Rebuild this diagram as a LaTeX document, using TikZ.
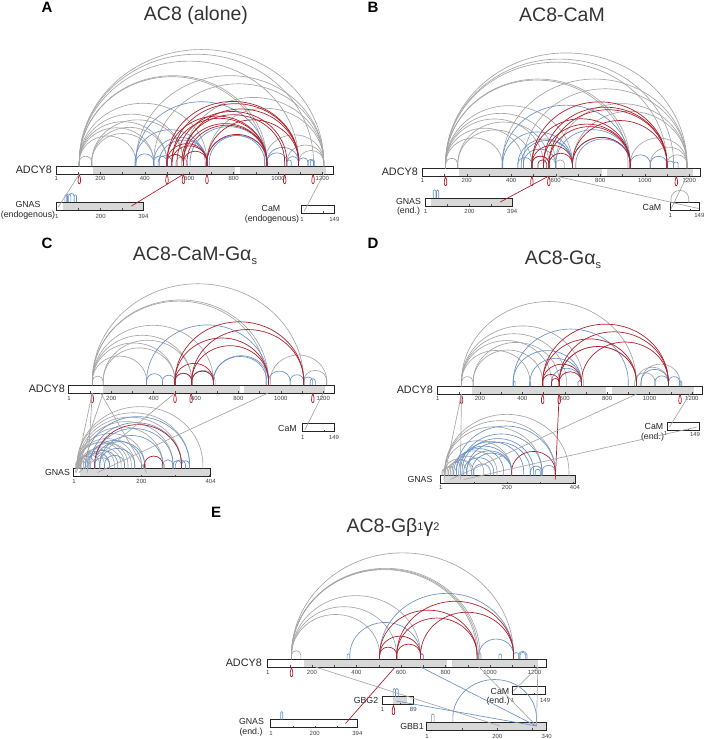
\documentclass[tikz,border=0pt]{standalone}
\usepackage{fontspec}
\setmainfont{Liberation Sans}

\definecolor{linkgrey}{RGB}{165,165,165}
\definecolor{linkblue}{RGB}{104,146,202}
\definecolor{linkred}{RGB}{176,34,44}
\definecolor{barshade}{RGB}{216,216,216}

\tikzset{
  gry/.style={linkgrey, line width=0.65pt},
  blu/.style={linkblue, line width=0.65pt},
  rd/.style={linkred, line width=0.7pt},
  barline/.style={draw=black!85, fill=white, line width=0.7pt},
  ticklab/.style={font=\fontsize{6}{7}\selectfont, text=black!75, inner sep=0pt},
  protlab/.style={font=\fontsize{8.8}{10}\selectfont, text=black!85, inner sep=0pt},
  barlab/.style={font=\fontsize{10.8}{12}\selectfont, text=black!85, inner sep=0pt, anchor=east},
  paneltitle/.style={font=\fontsize{19.5}{22}\selectfont, text=black!80, inner sep=0pt},
  panelletter/.style={font=\fontsize{15}{16}\selectfont\bfseries, inner sep=0pt}
}

% current bar: origin x, pixels per residue, top edge
\newcommand{\usebar}[3]{\def\ox{#1}\def\sc{#2}\def\by{#3}}
\def\leg{4}
% arcs above the current bar, residue pairs
\newcommand{\arcs}[2]{%
  \foreach \ra/\rb in {#2}{%
    \draw[#1] ({\ox+\ra*\sc},\by) -- ++(0,-\leg)
      arc[start angle=180, end angle=0, x radius={(\rb-\ra)*\sc/2*1pt}, y radius={(\rb-\ra)*\sc/2*0.92*1pt}]
      -- ++(0,\leg);}}
% self links hanging under the current bar
\newcommand{\loops}[2]{%
  \foreach \rr in {#2}{%
    \draw[rd] ({\ox+\rr*\sc},#1) .. controls +(-4.5,13) and +(4.5,13) .. ({\ox+\rr*\sc},#1);}}
% protein bar: x0, top, length, scale, shaded ranges, ticks
\newcommand{\protbar}[6]{%
  \draw[barline] (#1,#2) rectangle ({#1+#3*#4},#2+8);
  \foreach \ra/\rb in {#5}{\fill[barshade] ({#1+\ra*#4},#2+0.4) rectangle ({#1+\rb*#4},#2+7.6);}
  \foreach \tt in {#6}{\draw[black!70, line width=0.4pt] ({#1+\tt*#4},#2+8) -- ++(0,-1.6);}
  \draw[draw=black!85, line width=0.7pt] (#1,#2) rectangle ({#1+#3*#4},#2+8);}
% residue labels under a bar: x0, scale, y, residue/label
\newcommand{\ticklabels}[4]{%
  \foreach \rr/\lab in {#4}{\node[ticklab] (tick-\lab) at ({#1+\rr*#2},#3) {\lab};}}

\begin{document}
\begin{tikzpicture}[x=1pt, y=-1pt]
\useasboundingbox (0,0) rectangle (705,739);

% ===== A: AC8 alone =====
\node[panelletter] (A-letter) at (47,7) {A};
\node[paneltitle] (A-title) at (196,15) {AC8 (alone)};
\protbar{56}{166}{1251}{0.222}{165/807,830/1215}{100,200,...,1200}
\ticklabels{56}{0.222}{178.5}{1/1,200/200,400/400,600/600,800/800,1000/1000,1200/1200}
\node[barlab] (A-adcy8) at (52,170) {ADCY8};
\protbar{56.5}{202}{394}{0.2205}{30/394}{100,200,300}
\ticklabels{56.5}{0.2205}{216}{1/1,200/200,394/394}
\node[protlab] (A-gnas) at (28,204.5) {GNAS};
\node[protlab] (A-gnas-end) at (28,215.5) {(endogenous)};
\protbar{301.7}{205}{149}{0.219}{0/0}{100}
\ticklabels{301.7}{0.219}{219}{1/1,149/149}
\node[protlab] (A-cam) at (271,208.5) {CaM};
\node[protlab] (A-cam-end) at (272,219) {(endogenous)};

\usebar{56}{0.222}{166}
\arcs{gry}{105/1206, 105/1160, 105/1093, 105/950, 105/940, 105/680, 105/574, 105/500, 105/440, 105/360, 105/161, 161/574, 161/500, 161/440, 360/1206, 440/1206, 574/1206, 680/1206, 940/1206, 1040/1206, 1093/1206, 540/590}
\arcs{blu}{360/950, 356/672, 440/680, 465/680, 360/440, 440/500, 460/522, 680/940, 690/950, 604/950, 950/1040, 1040/1093, 950/1093, 1093/1135, 1135/1160, 1145/1165, 1040/1060}
\arcs{rd}{500/950, 500/1093, 522/950, 522/1093, 567/1030, 574/950, 574/1093, 500/680, 522/680, 574/680, 680/950, 680/1093, 500/574, 590/950, 545/1040}
\loops{174}{105, 500, 574, 680, 1030, 1158}
\usebar{56.5}{0.2205}{202}
\def\leg{6}
\arcs{blu}{38/50, 45/65, 55/80, 80/91}
\def\leg{4}
\draw[gry] ({56+105*0.222},174) -- ({56.5+8*0.2205},207);
\draw[rd] ({56+576*0.222},174) -- ({56.5+340*0.2205},206);
\draw[gry] ({56+1206*0.222},174) -- ({301.7+12*0.219},211);

% ===== B: AC8-CaM =====
\node[panelletter] (B-letter) at (373,7) {B};
\node[paneltitle] (B-title) at (562,15) {AC8-CaM};
\protbar{422.2}{168}{1251}{0.2225}{165/807,830/1215}{100,200,...,1200}
\ticklabels{422.2}{0.2225}{180.5}{1/1,200/200,400/400,600/600,800/800,1000/1000,1200/1200}
\node[barlab] (B-adcy8) at (418,172) {ADCY8};
\protbar{425.5}{198}{394}{0.22}{27/394}{100,200,300}
\ticklabels{425.5}{0.22}{211}{1/1,200/200,394/394}
\node[protlab] (B-gnas) at (408.5,201.5) {GNAS};
\node[protlab] (B-gnas-end) at (408.5,211.5) {(end.)};
\protbar{670}{202.5}{149}{0.197}{0/0}{100}
\ticklabels{670}{0.197}{215}{1/1,149/149}
\node[protlab] (B-cam) at (652,207) {CaM};

\usebar{422.2}{0.2225}{168}
\arcs{gry}{105/1190, 105/1130, 105/1100, 105/935, 105/925, 105/675, 105/600, 105/545, 105/455, 105/360, 105/160, 160/570, 160/493, 360/1190, 455/1190, 600/1190, 675/1190, 935/1190, 1025/1190, 1100/1190, 545/600, 600/640}
\arcs{blu}{360/935, 362/675, 430/675, 445/675, 455/600, 493/570, 430/493, 675/935, 690/935, 935/1025, 1025/1100, 1100/1130, 1130/1150, 600/935}
\arcs{rd}{493/935, 493/1100, 545/935, 545/1100, 570/935, 570/1100, 493/675, 570/675, 493/570, 675/1100, 675/935, 520/560}
\loops{176}{105, 493, 569, 1142}
\usebar{425.5}{0.22}{198}
\def\leg{7}
\arcs{blu}{35/48, 50/60}
\def\leg{4}
\usebar{670}{0.197}{202.5}
\arcs{gry}{5/95}
\draw[rd] ({422.2+569*0.2225},176) -- ({425.5+340*0.22},202);
\draw[gry] ({422.2+600*0.2225},176) -- ({670+145*0.197},208.5);
\draw[gry] ({670+5*0.197},209) -- ({422.2+1190*0.2225},176);

% ===== C: AC8-CaM-Gas =====
\node[panelletter] (C-letter) at (47,243) {C};
\node[paneltitle] (C-title) at (195,256) {AC8-CaM-Gα\raisebox{-4pt}{\fontsize{11}{11}\selectfont s}};
\protbar{68.8}{385}{1251}{0.212}{163/808,828/1210}{100,200,...,1200}
\ticklabels{68.8}{0.212}{398}{1/1,200/200,400/400,600/600,800/800,1000/1000,1200/1200}
\node[barlab] (C-adcy8) at (65,389) {ADCY8};
\protbar{73.7}{468.5}{404}{0.339}{18/404}{100,200,300,400}
\ticklabels{73.7}{0.339}{481}{1/1,200/200,404/404}
\node[protlab] (C-gnas) at (57.5,472.5) {GNAS};
\protbar{302.7}{423.5}{149}{0.21}{0/0}{100}
\ticklabels{302.7}{0.21}{437}{1/1,149/149}
\node[protlab] (C-cam) at (287.5,428) {CaM};

\usebar{68.8}{0.212}{385}
\arcs{gry}{111/1108, 111/942, 111/930, 111/682, 111/580, 111/501, 111/367, 111/162, 162/580, 162/501, 950/1217, 1108/1217, 580/690}
\arcs{blu}{367/942, 442/501, 501/580, 580/682, 682/942, 682/934, 942/1044, 1044/1108, 1108/1150, 1139/1163, 367/442}
\arcs{rd}{501/1108, 580/1108, 501/942, 580/942, 501/580, 580/682, 501/682}
\loops{393}{111, 501, 577, 1151}
\usebar{73.7}{0.339}{468.5}
\arcs{gry}{10/381, 10/342, 14/318, 18/293, 22/263, 10/209, 14/180, 10/35, 10/62, 14/77, 18/91, 22/106, 35/106, 10/150, 14/160, 5/30, 8/45, 20/120, 28/140, 35/170, 206/212, 260/267}
\arcs{blu}{35/342, 50/318, 62/293, 77/263, 62/209, 77/180, 91/150, 62/106, 263/293, 293/318, 318/342, 300/330, 40/130, 45/200}
\arcs{rd}{62/318, 209/263}
\draw[gry] ({68.8+111*0.212},393) -- ({73.7+5*0.339},472.5);
\draw[gry] ({68.8+111*0.212},393) -- ({73.7+40*0.339},472.5);
\draw[gry] ({68.8+162*0.212},393) -- ({73.7+8*0.339},472.5);
\draw[gry] ({68.8+150*0.212},393) -- ({73.7+215*0.339},472.5);
\draw[gry] ({68.8+501*0.212},393) -- ({73.7+15*0.339},472.5);
\draw[gry] ({68.8+940*0.212},393) -- ({73.7+70*0.339},472.5);
\draw[gry] ({302.7+10*0.21},430) -- ({68.8+1200*0.212},393);

% ===== D: AC8-Gas =====
\node[panelletter] (D-letter) at (373,243) {D};
\node[paneltitle] (D-title) at (563,260) {AC8-Gα\raisebox{-4pt}{\fontsize{11}{11}\selectfont s}};
\protbar{437.5}{386}{1251}{0.212}{163/797,824/1210}{100,200,...,1200}
\ticklabels{437.5}{0.212}{398.5}{1/1,200/200,400/400,600/600,800/800,1000/1000,1200/1200}
\node[barlab] (D-adcy8) at (433,390) {ADCY8};
\protbar{440.4}{475.5}{404}{0.333}{10/404}{100,200,300,400}
\ticklabels{440.4}{0.333}{487.5}{1/1,200/200,404/404}
\node[protlab] (D-gnas) at (420,479.5) {GNAS};
\protbar{667.3}{422.3}{149}{0.213}{0/0}{100}
\node[ticklab] (D-cam-1) at (665.5,433.5) {1};
\node[ticklab] (D-cam-149) at (695,434.5) {149};
\node[protlab] (D-cam) at (654,426.5) {CaM};
\node[protlab] (D-cam-end) at (652.5,437.5) {(end.)};

\usebar{437.5}{0.212}{386}
\arcs{gry}{113/938, 113/688, 113/608, 113/538, 113/436, 113/168, 168/496, 168/574, 930/1026, 938/1089, 960/1144, 574/938}
\arcs{blu}{357/900, 357/679, 436/679, 538/679, 960/1089, 1026/1089, 1089/1144, 1140/1152, 357/366, 435/438, 663/679}
\arcs{rd}{496/1089, 496/938, 574/1089, 574/938, 496/679, 574/679, 496/574, 679/1089, 538/574}
\loops{394}{113, 496, 574, 1144}
\usebar{440.4}{0.333}{475.5}
\arcs{gry}{13/386, 13/345, 13/305, 13/214, 13/94, 13/48, 20/79, 8/40, 5/25, 25/100, 30/130, 35/170}
\arcs{blu}{48/345, 60/305, 79/270, 79/214, 94/214, 48/214, 270/305, 305/345, 55/250, 65/280, 70/160, 100/150, 40/190, 285/300}
\arcs{rd}{214/345}
\draw[gry] ({437.5+113*0.212},394) -- ({440.4+10*0.333},479.5);
\draw[gry] ({437.5+113*0.212},394) -- ({440.4+60*0.333},479.5);
\draw[rd] ({437.5+574*0.212},394) -- ({440.4+345*0.333},479.5);
\draw[gry] ({437.5+940*0.212},394) -- ({440.4+30*0.333},479.5);
\draw[gry] ({440.4+70*0.333},479.5) -- ({667.3+140*0.213},427);
\draw[gry] ({667.3+10*0.213},427) -- ({437.5+1190*0.212},394);

% ===== E: AC8-Gb1g2 =====
\node[panelletter] (E-letter) at (216,512) {E};
\node[paneltitle] (E-title) at (393,527) {AC8-Gβ\raisebox{1.5pt}{\fontsize{11}{11}\selectfont 1}γ\raisebox{1.5pt}{\fontsize{11}{11}\selectfont 2}};
\protbar{267.5}{659}{1251}{0.2225}{165/807,830/1215}{100,200,...,1200}
\ticklabels{267.5}{0.2225}{672.5}{1/1,200/200,400/400,600/600,800/800,1000/1000,1200/1200}
\node[barlab] (E-adcy8) at (262,663) {ADCY8};
\protbar{382.3}{696.7}{89}{0.348}{30/70}{50}
\ticklabels{382.3}{0.348}{709.5}{1/1,89/89}
\node[protlab] (E-gbg2) at (366,700.7) {GBG2};
\protbar{270.7}{719.5}{394}{0.22}{0/0}{100,200,300}
\ticklabels{270.7}{0.22}{733.3}{1/1,200/200,394/394}
\node[protlab] (E-gnas) at (251.5,721.7) {GNAS};
\node[protlab] (E-gnas-end) at (251,732.7) {(end.)};
\protbar{426.7}{722}{340}{0.353}{1/340}{100,200,300}
\ticklabels{426.7}{0.353}{736}{1/1,200/200,340/340}
\node[protlab] (E-gbb1) at (412,726.7) {GBB1};
\protbar{512.3}{686.7}{149}{0.22}{0/0}{100}
\ticklabels{512.3}{0.22}{700.5}{1/1,149/149}
\node[protlab] (E-cam) at (500,691) {CaM};
\node[protlab] (E-cam-end) at (498,701.7) {(end.)};

\usebar{267.5}{0.2225}{659}
\arcs{gry}{108/1106, 108/955, 108/948, 108/942, 108/688, 108/580, 108/504, 108/150, 942/960, 688/700}
\arcs{blu}{370/688, 504/1106, 358/370, 950/1106, 1040/1052, 1106/1130, 1129/1166, 1135/1160, 688/700}
\arcs{rd}{581/1106, 504/942, 581/942, 688/1106, 504/581, 504/688, 581/688}
\loops{667}{108}
\usebar{382.3}{0.348}{696.7}
\def\leg{7}
\arcs{blu}{31/38, 38/46}
\loops{705}{32}
\usebar{270.7}{0.22}{719.5}
\arcs{blu}{46/55}
\usebar{426.7}{0.353}{722}
\arcs{blu}{14/21}
\def\leg{4}
\arcs{blu}{74/311}
\draw[rd] ({267.5+574*0.2225},667) -- ({270.7+340*0.22},723.5);
\draw[gry] ({267.5+215*0.2225},667) -- ({426.7+208*0.353},726);
\draw[blu] ({267.5+688*0.2225},667) -- ({426.7+311*0.353},726);
\draw[gry] ({267.5+950*0.2225},667) -- ({426.7+311*0.353},726);
\draw[gry] ({512.3+5*0.22},691) -- ({267.5+1215*0.2225},667);
\draw[gry] ({267.5+1215*0.2225},667) -- ({426.7+311*0.353},726);
\draw[blu] ({382.3+40*0.348},701) -- ({426.7+311*0.353},726);
\end{tikzpicture}
\end{document}
